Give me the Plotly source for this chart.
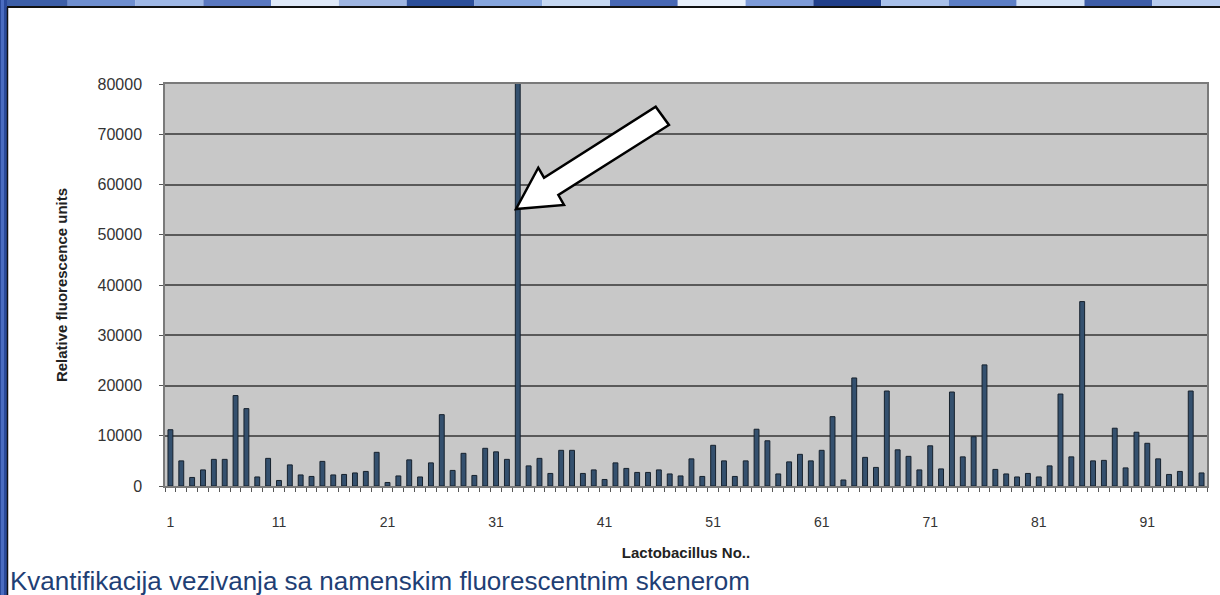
import plotly.graph_objects as go

# ---------------- data ----------------
lacto_no = list(range(1, 97))
rfu = [11200, 5000, 1700, 3200, 5300, 5300, 18000, 15400, 1800, 5500,
       1100, 4200, 2200, 1900, 4900, 2200, 2300, 2600, 2900, 6700,
       700, 2000, 5200, 1800, 4600, 14200, 3100, 6500, 2100, 7500,
       6800, 5300, 85000, 4000, 5500, 2500, 7100, 7100, 2500, 3200,
       1300, 4600, 3500, 2700, 2700, 3200, 2400, 2000, 5400, 1900,
       8100, 5000, 1900, 5000, 11300, 9000, 2400, 4800, 6300, 5000,
       7100, 13800, 1200, 21500, 5700, 3700, 18900, 7200, 5900, 3200,
       8000, 3400, 18700, 5800, 9800, 24100, 3300, 2400, 1800, 2500,
       1800, 4000, 18300, 5800, 36700, 5000, 5100, 11500, 3600, 10700,
       8500, 5400, 2300, 2900, 18900, 2600]
x_tick_vals = [1, 11, 21, 31, 41, 51, 61, 71, 81, 91]
x_tick_text = ["1", "11", "21", "31", "41", "51", "61", "71", "81", "91"]
y_tick_vals = [0, 10000, 20000, 30000, 40000, 50000, 60000, 70000, 80000]
y_tick_text = ["0", "10000", "20000", "30000", "40000", "50000", "60000", "70000", "80000"]

W, H = 1220, 595
L, R, T, B = 165, 13, 84, 109

fig = go.Figure()
fig.add_trace(go.Bar(
    x=lacto_no, y=rfu, width=0.45,
    marker=dict(color="#34506e", line=dict(color="#16212d", width=1)),
))

# helper: pixel -> paper
def px(xp):
    return (xp - L) / (W - L - R)

def py(yp):
    return (H - B - yp) / (H - T - B)

shapes = []
# slide top strip (decorative gradient segments)
top_cols = ["#3d5fa8", "#6f8fd0", "#9fb8e6", "#5a78c0", "#dfe9f8", "#9fb6e2",
            "#2c4f9a", "#86a6de", "#c6d8f2", "#4868b4", "#e8f0fb", "#7d9bd8",
            "#213f8a", "#a8c0ea", "#5d7fc6", "#d2e1f6", "#3e5ea8", "#b7cbee"]
n = len(top_cols)
for i, c in enumerate(top_cols):
    shapes.append(dict(type="rect", xref="paper", yref="paper",
                       x0=px(i * W / n), x1=px((i + 1) * W / n),
                       y0=py(6), y1=py(0), fillcolor=c, line=dict(width=0), layer="below"))
shapes.append(dict(type="line", xref="paper", yref="paper", x0=px(0), x1=px(W),
                   y0=py(7), y1=py(7), line=dict(color="#111111", width=2)))
# slide left strip
shapes.append(dict(type="rect", xref="paper", yref="paper", x0=px(0), x1=px(7),
                   y0=py(H), y1=py(0), fillcolor="#2a4a9a", line=dict(width=0)))
shapes.append(dict(type="rect", xref="paper", yref="paper", x0=px(1), x1=px(4),
                   y0=py(H), y1=py(0), fillcolor="#4a6cc0", line=dict(width=0)))
shapes.append(dict(type="line", xref="paper", yref="paper", x0=px(7.5), x1=px(7.5),
                   y0=py(H), y1=py(7), line=dict(color="#111111", width=1.5)))

# white block arrow pointing at strain 33
arrow_pts = [(45.71, 75480), (46.93, 71840), (36.74, 57910), (37.26, 55920),
             (32.84, 55120), (34.89, 63340), (35.42, 61350)]
path = "M " + " L ".join(f"{a},{b}" for a, b in arrow_pts) + " Z"
shapes.append(dict(type="path", xref="x", yref="y", path=path,
                   fillcolor="white", line=dict(color="black", width=2.5)))

fig.update_layout(
    width=W, height=H,
    margin=dict(l=L, r=R, t=T, b=B),
    paper_bgcolor="white",
    plot_bgcolor="#c8c8c8",
    showlegend=False,
    font=dict(family="Liberation Sans, Arial, sans-serif", color="#333333"),
    shapes=shapes,
    xaxis=dict(
        range=[0.5, 96.5], tickmode="array", tickvals=x_tick_vals, ticktext=x_tick_text,
        ticks="", showgrid=False, zeroline=False,
        showline=True, linecolor="#7a7a7a", linewidth=1.5, mirror=True,
        tickfont=dict(size=14, color="#333333"), ticklabelstandoff=22,
        minor=dict(tickvals=[v + 0.5 for v in [0] + lacto_no], ticks="outside",
                   ticklen=4, tickcolor="#555555", showgrid=False),
        title=dict(text="<b>Lactobacillus No..</b>", font=dict(size=15, color="#222222"),
                   standoff=19),
    ),
    yaxis=dict(
        range=[0, 80000], tickmode="array", tickvals=y_tick_vals, ticktext=y_tick_text,
        ticks="outside", ticklen=4, tickcolor="#555555",
        showgrid=True, gridcolor="#5a5a5a", gridwidth=1.5,
        zeroline=False, showline=True, linecolor="#7a7a7a", linewidth=1.5, mirror=True,
        tickfont=dict(size=16, color="#333333"), ticklabelstandoff=14,
        title=dict(text="<b>Relative fluorescence units</b>",
                   font=dict(size=15, color="#222222"), standoff=26),
    ),
    annotations=[dict(
        text="Kvantifikacija vezivanja sa namenskim fluorescentnim skenerom",
        xref="paper", yref="paper", x=px(8), y=py(581), xanchor="left", yanchor="middle",
        showarrow=False, font=dict(size=26, color="#1f3f75",
                                   family="Liberation Sans, Arial, sans-serif"),
    )],
)

fig.write_html("out.html", config={"displayModeBar": False},
               post_script="document.body.style.margin='0';document.body.style.padding='0';")
